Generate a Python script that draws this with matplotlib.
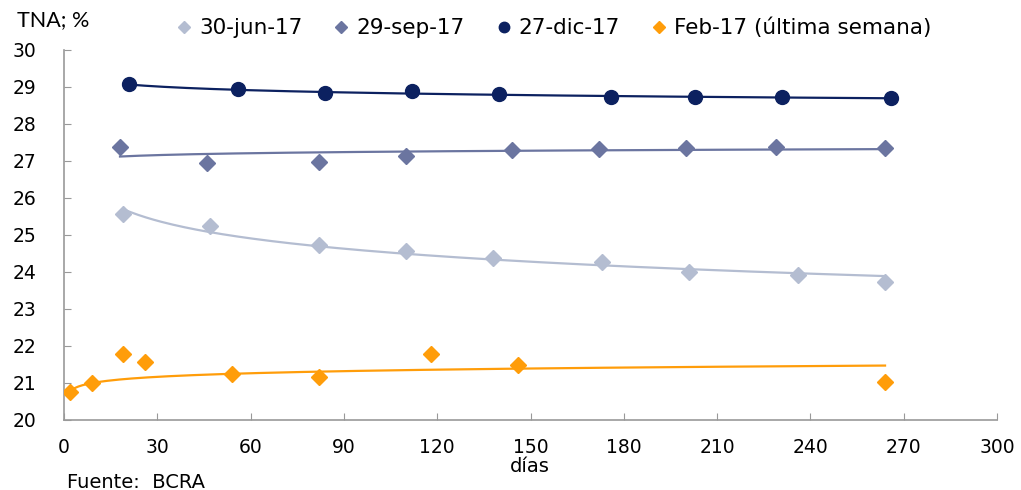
import matplotlib
matplotlib.use('Agg')
import matplotlib.pyplot as plt
import numpy as np

# days to maturity and TNA (%) per auction date
DAYS_JUN = [19, 47, 82, 110, 138, 173, 201, 236, 264]
TNA_JUN = [25.57, 25.25, 24.72, 24.56, 24.37, 24.28, 24.0, 23.91, 23.73]

DAYS_SEP = [18, 46, 82, 110, 144, 172, 200, 229, 264]
TNA_SEP = [27.39, 26.95, 26.97, 27.14, 27.30, 27.33, 27.36, 27.39, 27.34]

DAYS_DIC = [21, 56, 84, 112, 140, 176, 203, 231, 266]
TNA_DIC = [29.08, 28.94, 28.85, 28.88, 28.81, 28.74, 28.72, 28.72, 28.69]

DAYS_FEB = [2, 9, 19, 26, 54, 82, 118, 146, 264]
TNA_FEB = [20.75, 21.0, 21.77, 21.57, 21.23, 21.16, 21.77, 21.49, 21.02]

# logarithmic trend lines as drawn in the source (y = a*ln(x) + b)
TREND_A = [-0.688, 0.0745, -0.146, 0.14]
TREND_B = [27.725, 26.905, 29.51, 20.69]

LABELS = ['30-jun-17', '29-sep-17', '27-dic-17', 'Feb-17 (última semana)']
COLORS = ['#b4bdd1', '#6b75a0', '#0c2160', '#ff9d0a']
MARKERS = ['D', 'D', 'o', 'D']

XTICKS = list(range(0, 301, 30))
YTICKS = list(range(20, 31))

fig = plt.figure(figsize=(10.21, 4.90), dpi=100)
ax = fig.add_axes([0.0627, 0.1429, 0.9138, 0.7551])

series = [(DAYS_JUN, TNA_JUN), (DAYS_SEP, TNA_SEP), (DAYS_DIC, TNA_DIC), (DAYS_FEB, TNA_FEB)]
for (d, v), a, b, lab, col, mk in zip(series, TREND_A, TREND_B, LABELS, COLORS, MARKERS):
    ms = 10 if mk == 'o' else 8.5
    ax.plot(d, v, mk, color=col, ms=ms, mec=col, label=lab, zorder=3)
    xs = np.linspace(min(d), max(d), 200)
    ax.plot(xs, a * np.log(xs) + b, '-', color=col, lw=1.6, zorder=2)

ax.set_xlim(0, 300)
ax.set_ylim(20, 30)
ax.set_xticks(XTICKS)
ax.set_yticks(YTICKS)
ax.tick_params(direction='in', color='#999999', length=5, labelsize=13.5)
ax.tick_params(axis='y', pad=20)
ax.tick_params(axis='x', pad=13)
for s in ['top', 'right']:
    ax.spines[s].set_visible(False)
for s in ['left', 'bottom']:
    ax.spines[s].set_color('#999999')
    ax.spines[s].set_linewidth(1.2)

fig.text(0.017, 0.958, 'TNA; %', fontsize=15.5, family='Lato', va='center')
fig.text(0.519, 0.048, 'días', fontsize=14, ha='center', va='center')
fig.text(0.066, 0.016, 'Fuente:  BCRA', fontsize=14, va='center')

fig.legend(loc='center', bbox_to_anchor=(0.541, 0.943), ncol=4, frameon=False,
           prop={'size': 15.5}, handletextpad=0.2, columnspacing=1.3,
           handlelength=1.0, markerscale=0.75)

fig.savefig('out.png', dpi=100)
